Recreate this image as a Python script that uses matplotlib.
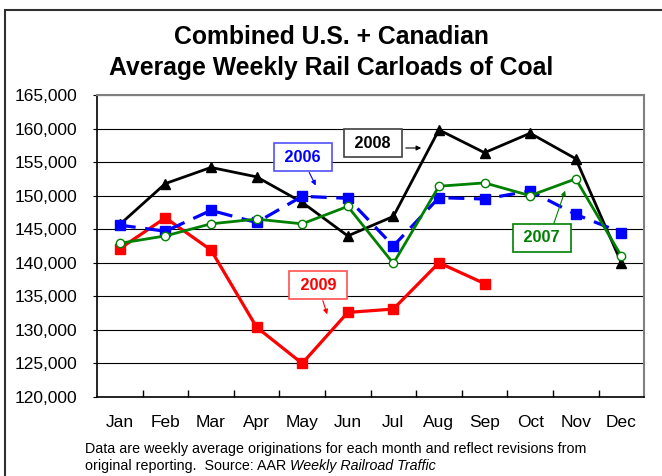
import numpy as np
import matplotlib
matplotlib.use('Agg')
import matplotlib.pyplot as plt
from matplotlib.patches import Rectangle
from matplotlib.ticker import FuncFormatter

plt.rcParams['font.family'] = ['Liberation Sans', 'DejaVu Sans']

# data
months = ['Jan', 'Feb', 'Mar', 'Apr', 'May', 'Jun', 'Jul', 'Aug', 'Sep', 'Oct', 'Nov', 'Dec']
y2006 = [145600, 144700, 147800, 146000, 149900, 149600, 142500, 149700, 149500, 150700, 147200, 144500]
y2007 = [142900, 144000, 145800, 146500, 145800, 148400, 139900, 151400, 151900, 150000, 152500, 141000]
y2008 = [145700, 151800, 154200, 152800, 149000, 144000, 146900, 159800, 156400, 159300, 155500, 140000]
y2009 = [142100, 146700, 141900, 130400, 125000, 132600, 133100, 140000, 136900]

x = np.arange(len(months))

fig = plt.figure(figsize=(6.62, 4.76), dpi=100)
ax = fig.add_axes([0.1465, 0.166, 0.8265, 0.6345])

ax.plot(x[:len(y2009)], y2009, color='#ff0000', lw=2.3, marker='s', ms=6.5, zorder=3)
ax.plot(x, y2008, color='black', lw=2.0, marker='^', ms=6.5, zorder=4)
ax.plot(x, y2006, color='#0000ff', lw=2.3, ls=(0, (5, 3)), marker='s', ms=6.5, zorder=5)
ax.plot(x, y2007, color='#008000', lw=2.0, marker='o', ms=6, mfc='white', mec='#008000', mew=1.0, zorder=6)

ax.set_xlim(-0.5, 11.5)
ax.set_ylim(120000, 165000)
ax.set_yticks(np.arange(120000, 165001, 5000))
ax.yaxis.set_major_formatter(FuncFormatter(lambda v, p: f'{int(v):,}'))
ax.yaxis.grid(True, color='black', lw=0.8)
ax.set_axisbelow(True)

ax.set_xticks(x)
ax.set_xticklabels(months)
ax.set_xticks(np.arange(0.5, 11.5, 1), minor=True)
ax.tick_params(axis='x', which='major', length=0, pad=13, labelsize=12.5)
ax.tick_params(axis='x', which='minor', direction='in', length=5, width=1)
ax.tick_params(axis='y', direction='out', length=3, pad=11, labelsize=12.5)

for s in ['left', 'bottom']:
    ax.spines[s].set_color('black')
    ax.spines[s].set_linewidth(1.2)
for s in ['top', 'right']:
    ax.spines[s].set_color('#808080')
    ax.spines[s].set_linewidth(1.5)

fig.text(0.5, 0.922, 'Combined U.S. + Canadian', ha='center', va='center', fontsize=17.8, fontweight='bold')
fig.text(0.5, 0.857, 'Average Weekly Rail Carloads of Coal', ha='center', va='center', fontsize=17.8, fontweight='bold')

fs = 10.3
fig.text(85 / 662, 1 - 449 / 476, 'Data are weekly average originations for each month and reflect revisions from',
         ha='left', va='center', fontsize=fs)
t = fig.text(85 / 662, 1 - 466 / 476, 'original reporting.  Source: AAR ', ha='left', va='center', fontsize=fs)
fig.canvas.draw()
bb = t.get_window_extent()
fig.text(bb.x1 / fig.bbox.width, 1 - 466 / 476, 'Weekly Railroad Traffic', ha='left', va='center',
         fontsize=fs, style='italic')

# labels for each series
def label(txt, xy_box, xy_arrow, xy_tail, col, edge):
    ax.annotate('', xy=xy_arrow, xytext=xy_tail, xycoords='figure pixels', textcoords='figure pixels',
                arrowprops=dict(arrowstyle='-|>', color=col, lw=0.8, mutation_scale=7), zorder=8)
    ax.text(xy_box[0], xy_box[1], ' ' + txt + ' ', transform=None, ha='center', va='center', fontsize=11.7,
            fontweight='bold', color=col,
            bbox=dict(boxstyle='square,pad=0.4', fc='white', ec=edge, lw=1.2), zorder=9)

H = 476
label('2006', (303, H - 157), (317, H - 188), (308, H - 170), '#0000ff', '#5050ff')
label('2008', (373, H - 143), (424, H - 148), (403, H - 148), 'black', '#404040')
label('2007', (542, H - 238), (566, H - 188), (553, H - 226), '#008000', '#008000')
label('2009', (318, H - 285), (328, H - 317), (322, H - 298), '#ff0000', '#ff5050')

fig.add_artist(Rectangle((5 / 662, -0.1), 1.2, 1.1 - 10 / 476, transform=fig.transFigure,
                         fill=False, ec='#303030', lw=1.5))

fig.savefig('out.png', dpi=100)
